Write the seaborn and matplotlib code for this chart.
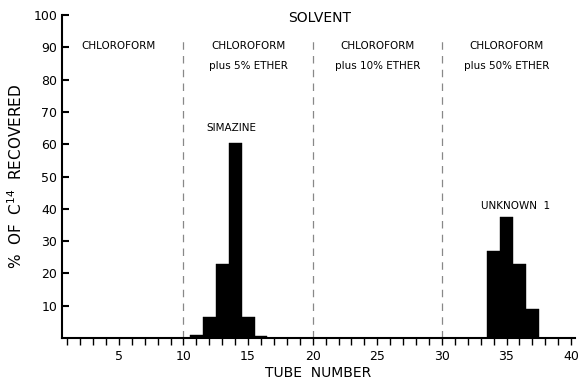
import matplotlib
matplotlib.use("Agg")
import matplotlib.pyplot as plt
import seaborn as sns
import numpy as np
import pandas as pd

# Data
simazine_tubes = [11, 12, 13, 14, 15, 16]
simazine_pct = [1.0, 6.5, 23.0, 60.5, 6.5, 0.6]
unknown_tubes = [34, 35, 36, 37]
unknown_pct = [27.0, 37.5, 23.0, 9.0]
solvent_boundaries = [10, 20, 30]
x_tick_values = [5, 10, 15, 20, 25, 30, 35, 40]
y_tick_values = [10, 20, 30, 40, 50, 60, 70, 80, 90, 100]
y_tick_labels = ["10", "20", "30", "40", "50", "60", "70", "80", "90", "100"]

df = pd.DataFrame({
    "tube": simazine_tubes + unknown_tubes,
    "pct": simazine_pct + unknown_pct,
})

sns.set_theme(style="white")
plt.rcParams['font.family'] = ['DejaVu Sans']
plt.rcParams['text.color'] = 'black'
plt.rcParams['axes.labelcolor'] = 'black'
plt.rcParams['xtick.color'] = 'black'
plt.rcParams['ytick.color'] = 'black'

fig = plt.figure(figsize=(5.85, 3.85), dpi=100)
ax = fig.add_axes([62/585, 47/385, (575-62)/585, (338-15)/385])

sns.barplot(data=df, x="tube", y="pct", native_scale=True, width=1.0,
            color="black", edgecolor="black", linewidth=0.3,
            saturation=1, ax=ax, errorbar=None)

for b in solvent_boundaries:
    ax.plot([b, b], [0, 92], ls=(0, (6, 5)), color="#888888", lw=0.9)

ax.set_xlim(0.6, 40.3)
ax.set_ylim(0, 100)
ax.set_xticks(x_tick_values)
ax.set_xticks(np.arange(1, 41), minor=True)
ax.set_yticks(y_tick_values)
ax.set_yticklabels(y_tick_labels)
ax.tick_params(axis="x", which="both", direction="out", length=5, width=1, bottom=True, labelsize=9, pad=4)
ax.tick_params(axis="y", which="major", direction="in", length=5, width=1.5, left=True, labelsize=9)
ax.spines["top"].set_visible(False)
ax.spines["right"].set_visible(False)
ax.spines["left"].set_linewidth(1.5)
ax.spines["bottom"].set_linewidth(1.5)
ax.spines["left"].set_color("black")
ax.spines["bottom"].set_color("black")

ax.set_xlabel("TUBE  NUMBER", fontsize=10, labelpad=2)
ax.set_ylabel("%  OF  C$^{14}$  RECOVERED", fontsize=11, labelpad=6)

ax.text(20.5, 99, "SOLVENT", ha="center", va="center", fontsize=10)
ax.text(5.0, 90.4, "CHLOROFORM", ha="center", va="center", fontsize=7.5)
for xc, sub in [(15, "plus 5% ETHER"), (25, "plus 10% ETHER"), (35, "plus 50% ETHER")]:
    ax.text(xc, 90.4, "CHLOROFORM", ha="center", va="center", fontsize=7.5)
    ax.text(xc, 84.2, sub, ha="center", va="center", fontsize=7.5)

ax.text(13.7, 65, "SIMAZINE", ha="center", va="center", fontsize=7.5)
ax.text(35.7, 41, "UNKNOWN  1", ha="center", va="center", fontsize=7.5)

fig.savefig("out.png", dpi=100)
